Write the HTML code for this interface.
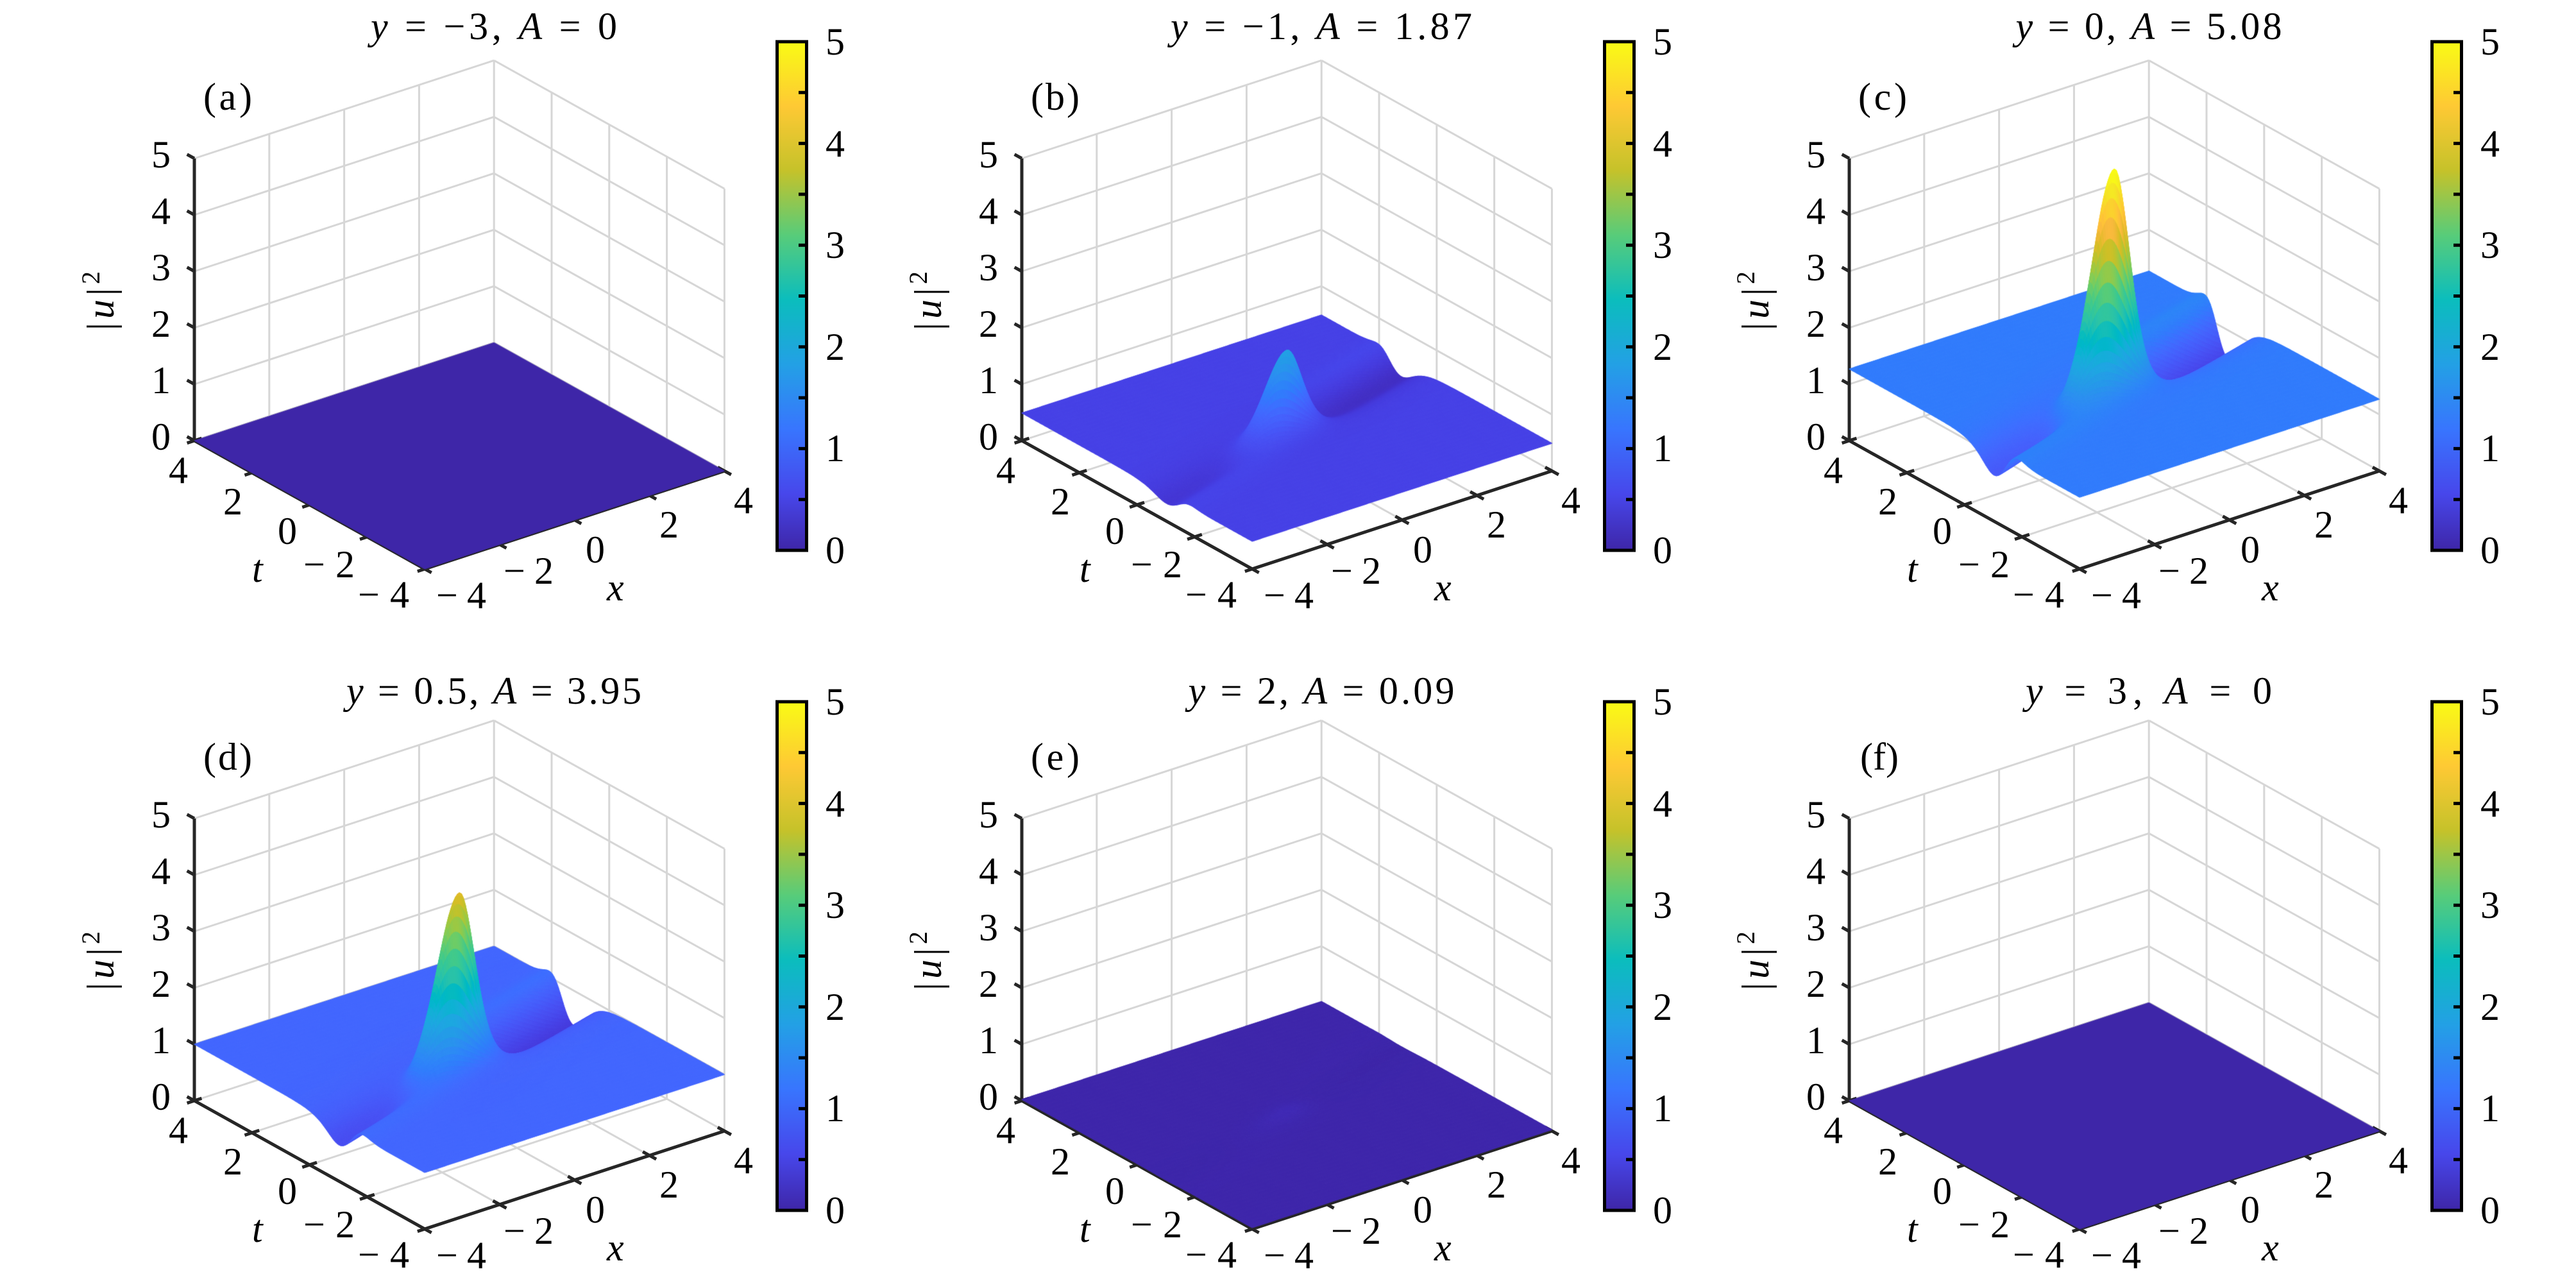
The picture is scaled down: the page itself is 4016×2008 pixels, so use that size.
<!DOCTYPE html>
<html><head><meta charset="utf-8">
<style>
html,body{margin:0;padding:0;background:#fff;}
#wrap{position:relative;width:4016px;height:2008px;overflow:hidden;background:#fff;}
svg,canvas{position:absolute;left:0;top:0;}
text{font-family:"Liberation Serif","DejaVu Serif",serif;font-size:60px;fill:#000;}
.e{text-anchor:end;}
.i{font-style:italic;}
</style></head>
<body><div id="wrap">
<svg width="4016" height="2008" viewBox="0 0 4016 2008" style="z-index:1">
<defs>
<g id="ax">
<path fill="none" stroke="#d6d6d6" stroke-width="3" d="M303 687L770.2 534.2M303 599L770.2 446.2M303 511L770.2 358.2M303 423L770.2 270.2M303 335L770.2 182.2M303 247L770.2 94.2M419.8 648.8V208.8M536.6 610.6V170.6M653.4 572.4V132.4M770.2 534.2V94.2M770.2 534.2L1129.4 734.2M770.2 446.2L1129.4 646.2M770.2 358.2L1129.4 558.2M770.2 270.2L1129.4 470.2M770.2 182.2L1129.4 382.2M770.2 94.2L1129.4 294.2M860 584.2V144.2M949.8 634.2V194.2M1039.6 684.2V244.2M1129.4 734.2V294.2M419.8 648.8L779 848.8M536.6 610.6L895.8 810.6M653.4 572.4L1012.6 772.4M392.8 737L860 584.2M482.6 787L949.8 634.2M572.4 837L1039.6 684.2"/>
<path fill="none" stroke="#262626" stroke-width="5" d="M303 687V247M303 687L662.2 887L1129.4 734.2M303 687l-11.4 -6.3M303 599l-11.4 -6.3M303 511l-11.4 -6.3M303 423l-11.4 -6.3M303 335l-11.4 -6.3M303 247l-11.4 -6.3M291.6 690.7l22.8 -7.4M381.4 740.7l22.8 -7.4M471.2 790.7l22.8 -7.4M561 840.7l22.8 -7.4M650.8 890.7l22.8 -7.4M651.7 881.2l21 11.6M768.5 843l21 11.6M885.3 804.8l21 11.6M1002.1 766.6l21 11.6M1118.9 728.4l21 11.6"/>
</g>
</defs>
<use href="#ax"/>
<use href="#ax" transform="translate(1290,0)"/>
<use href="#ax" transform="translate(2580,0)"/>
<use href="#ax" transform="translate(0,1029)"/>
<use href="#ax" transform="translate(1290,1029)"/>
<use href="#ax" transform="translate(2580,1029)"/>
</svg>
<canvas id="c" width="4016" height="2008" style="z-index:2"></canvas>
<svg width="4016" height="2008" viewBox="0 0 4016 2008" style="z-index:3" font-family="Liberation Serif, DejaVu Serif, serif">
<defs>
<linearGradient id="pg" x1="0" y1="1" x2="0" y2="0">
<stop offset="0" stop-color="rgb(62,38,168)"/>
<stop offset="0.111" stop-color="rgb(71,71,235)"/>
<stop offset="0.238" stop-color="rgb(56,117,254)"/>
<stop offset="0.365" stop-color="rgb(35,160,229)"/>
<stop offset="0.492" stop-color="rgb(11,189,189)"/>
<stop offset="0.619" stop-color="rgb(87,204,122)"/>
<stop offset="0.746" stop-color="rgb(197,194,42)"/>
<stop offset="0.873" stop-color="rgb(254,201,52)"/>
<stop offset="1" stop-color="rgb(249,251,21)"/>
</linearGradient>
<g id="cb">
<rect x="1211.5" y="65" width="46" height="793" fill="url(#pg)" stroke="#000" stroke-width="5"/>
<path stroke="#000" stroke-width="5" d="M1245 778.7H1256M1245 699.4H1256M1245 620.1H1256M1245 540.8H1256M1245 461.5H1256M1245 382.2H1256M1245 302.9H1256M1245 223.6H1256M1245 144.3H1256"/>
</g>
</defs>
<use href="#cb"/>
<use href="#cb" transform="translate(1290,0)"/>
<use href="#cb" transform="translate(2580,0)"/>
<use href="#cb" transform="translate(0,1029)"/>
<use href="#cb" transform="translate(1290,1029)"/>
<use href="#cb" transform="translate(2580,1029)"/>

<!-- Panel (a) -->
<g>
<text x="770" y="61" text-anchor="middle" textLength="384" lengthAdjust="spacing"><tspan class="i">y</tspan> = −3, <tspan class="i">A</tspan> = 0</text>
<text x="317" y="171" font-size="62" textLength="76" lengthAdjust="spacing">(a)</text>
<text class="e" x="266" y="701">0</text><text class="e" x="266" y="613">1</text><text class="e" x="266" y="525">2</text><text class="e" x="266" y="437">3</text><text class="e" x="266" y="349">4</text><text class="e" x="266" y="261">5</text>
<text class="e" x="293" y="753">4</text><text class="e" x="378" y="802">2</text><text class="e" x="463" y="848">0</text><text x="473" y="900" textLength="80" lengthAdjust="spacing">−2</text><text x="558" y="947" textLength="80" lengthAdjust="spacing">−4</text>
<text class="i" x="393" y="907">t</text>
<text x="680" y="948" textLength="78" lengthAdjust="spacing">−4</text><text x="785" y="910" textLength="78" lengthAdjust="spacing">−2</text><text x="913" y="877">0</text><text x="1028" y="838">2</text><text x="1144" y="800">4</text>
<text class="i" x="946" y="936">x</text>
<text transform="translate(177,466) rotate(-90)" text-anchor="middle" letter-spacing="6">|<tspan class="i">u</tspan>|<tspan dy="-22" font-size="40">2</tspan></text>
<text x="1287" y="878">0</text><text x="1287" y="719">1</text><text x="1287" y="561">2</text><text x="1287" y="402">3</text><text x="1287" y="244">4</text><text x="1287" y="85">5</text>
</g>

<!-- Panel (b) -->
<g transform="translate(1290,0)">
<text x="770" y="61" text-anchor="middle" textLength="470" lengthAdjust="spacing"><tspan class="i">y</tspan> = −1, <tspan class="i">A</tspan> = 1.87</text>
<text x="317" y="171" font-size="62" textLength="76" lengthAdjust="spacing">(b)</text>
<text class="e" x="266" y="701">0</text><text class="e" x="266" y="613">1</text><text class="e" x="266" y="525">2</text><text class="e" x="266" y="437">3</text><text class="e" x="266" y="349">4</text><text class="e" x="266" y="261">5</text>
<text class="e" x="293" y="753">4</text><text class="e" x="378" y="802">2</text><text class="e" x="463" y="848">0</text><text x="473" y="900" textLength="80" lengthAdjust="spacing">−2</text><text x="558" y="947" textLength="80" lengthAdjust="spacing">−4</text>
<text class="i" x="393" y="907">t</text>
<text x="680" y="948" textLength="78" lengthAdjust="spacing">−4</text><text x="785" y="910" textLength="78" lengthAdjust="spacing">−2</text><text x="913" y="877">0</text><text x="1028" y="838">2</text><text x="1144" y="800">4</text>
<text class="i" x="946" y="936">x</text>
<text transform="translate(177,466) rotate(-90)" text-anchor="middle" letter-spacing="6">|<tspan class="i">u</tspan>|<tspan dy="-22" font-size="40">2</tspan></text>
<text x="1287" y="878">0</text><text x="1287" y="719">1</text><text x="1287" y="561">2</text><text x="1287" y="402">3</text><text x="1287" y="244">4</text><text x="1287" y="85">5</text>
</g>

<!-- Panel (c) -->
<g transform="translate(2580,0)">
<text x="770" y="61" text-anchor="middle" textLength="415" lengthAdjust="spacing"><tspan class="i">y</tspan> = 0, <tspan class="i">A</tspan> = 5.08</text>
<text x="317" y="171" font-size="62" textLength="76" lengthAdjust="spacing">(c)</text>
<text class="e" x="266" y="701">0</text><text class="e" x="266" y="613">1</text><text class="e" x="266" y="525">2</text><text class="e" x="266" y="437">3</text><text class="e" x="266" y="349">4</text><text class="e" x="266" y="261">5</text>
<text class="e" x="293" y="753">4</text><text class="e" x="378" y="802">2</text><text class="e" x="463" y="848">0</text><text x="473" y="900" textLength="80" lengthAdjust="spacing">−2</text><text x="558" y="947" textLength="80" lengthAdjust="spacing">−4</text>
<text class="i" x="393" y="907">t</text>
<text x="680" y="948" textLength="78" lengthAdjust="spacing">−4</text><text x="785" y="910" textLength="78" lengthAdjust="spacing">−2</text><text x="913" y="877">0</text><text x="1028" y="838">2</text><text x="1144" y="800">4</text>
<text class="i" x="946" y="936">x</text>
<text transform="translate(177,466) rotate(-90)" text-anchor="middle" letter-spacing="6">|<tspan class="i">u</tspan>|<tspan dy="-22" font-size="40">2</tspan></text>
<text x="1287" y="878">0</text><text x="1287" y="719">1</text><text x="1287" y="561">2</text><text x="1287" y="402">3</text><text x="1287" y="244">4</text><text x="1287" y="85">5</text>
</g>

<!-- Panel (d) -->
<g transform="translate(0,1029)">
<text x="770" y="68" text-anchor="middle" textLength="460" lengthAdjust="spacing"><tspan class="i">y</tspan> = 0.5, <tspan class="i">A</tspan> = 3.95</text>
<text x="317" y="171" font-size="62" textLength="76" lengthAdjust="spacing">(d)</text>
<text class="e" x="266" y="701">0</text><text class="e" x="266" y="613">1</text><text class="e" x="266" y="525">2</text><text class="e" x="266" y="437">3</text><text class="e" x="266" y="349">4</text><text class="e" x="266" y="261">5</text>
<text class="e" x="293" y="753">4</text><text class="e" x="378" y="802">2</text><text class="e" x="463" y="848">0</text><text x="473" y="900" textLength="80" lengthAdjust="spacing">−2</text><text x="558" y="947" textLength="80" lengthAdjust="spacing">−4</text>
<text class="i" x="393" y="907">t</text>
<text x="680" y="948" textLength="78" lengthAdjust="spacing">−4</text><text x="785" y="910" textLength="78" lengthAdjust="spacing">−2</text><text x="913" y="877">0</text><text x="1028" y="838">2</text><text x="1144" y="800">4</text>
<text class="i" x="946" y="936">x</text>
<text transform="translate(177,466) rotate(-90)" text-anchor="middle" letter-spacing="6">|<tspan class="i">u</tspan>|<tspan dy="-22" font-size="40">2</tspan></text>
<text x="1287" y="878">0</text><text x="1287" y="719">1</text><text x="1287" y="561">2</text><text x="1287" y="402">3</text><text x="1287" y="244">4</text><text x="1287" y="85">5</text>
</g>

<!-- Panel (e) -->
<g transform="translate(1290,1029)">
<text x="770" y="68" text-anchor="middle" textLength="415" lengthAdjust="spacing"><tspan class="i">y</tspan> = 2, <tspan class="i">A</tspan> = 0.09</text>
<text x="317" y="171" font-size="62" textLength="76" lengthAdjust="spacing">(e)</text>
<text class="e" x="266" y="701">0</text><text class="e" x="266" y="613">1</text><text class="e" x="266" y="525">2</text><text class="e" x="266" y="437">3</text><text class="e" x="266" y="349">4</text><text class="e" x="266" y="261">5</text>
<text class="e" x="293" y="753">4</text><text class="e" x="378" y="802">2</text><text class="e" x="463" y="848">0</text><text x="473" y="900" textLength="80" lengthAdjust="spacing">−2</text><text x="558" y="947" textLength="80" lengthAdjust="spacing">−4</text>
<text class="i" x="393" y="907">t</text>
<text x="680" y="948" textLength="78" lengthAdjust="spacing">−4</text><text x="785" y="910" textLength="78" lengthAdjust="spacing">−2</text><text x="913" y="877">0</text><text x="1028" y="838">2</text><text x="1144" y="800">4</text>
<text class="i" x="946" y="936">x</text>
<text transform="translate(177,466) rotate(-90)" text-anchor="middle" letter-spacing="6">|<tspan class="i">u</tspan>|<tspan dy="-22" font-size="40">2</tspan></text>
<text x="1287" y="878">0</text><text x="1287" y="719">1</text><text x="1287" y="561">2</text><text x="1287" y="402">3</text><text x="1287" y="244">4</text><text x="1287" y="85">5</text>
</g>

<!-- Panel (f) -->
<g transform="translate(2580,1029)">
<text x="770" y="68" text-anchor="middle" textLength="384" lengthAdjust="spacing"><tspan class="i">y</tspan> = 3, <tspan class="i">A</tspan> = 0</text>
<text x="320" y="171" font-size="62">(f)</text>
<text class="e" x="266" y="701">0</text><text class="e" x="266" y="613">1</text><text class="e" x="266" y="525">2</text><text class="e" x="266" y="437">3</text><text class="e" x="266" y="349">4</text><text class="e" x="266" y="261">5</text>
<text class="e" x="293" y="753">4</text><text class="e" x="378" y="802">2</text><text class="e" x="463" y="848">0</text><text x="473" y="900" textLength="80" lengthAdjust="spacing">−2</text><text x="558" y="947" textLength="80" lengthAdjust="spacing">−4</text>
<text class="i" x="393" y="907">t</text>
<text x="680" y="948" textLength="78" lengthAdjust="spacing">−4</text><text x="785" y="910" textLength="78" lengthAdjust="spacing">−2</text><text x="913" y="877">0</text><text x="1028" y="838">2</text><text x="1144" y="800">4</text>
<text class="i" x="946" y="936">x</text>
<text transform="translate(177,466) rotate(-90)" text-anchor="middle" letter-spacing="6">|<tspan class="i">u</tspan>|<tspan dy="-22" font-size="40">2</tspan></text>
<text x="1287" y="878">0</text><text x="1287" y="719">1</text><text x="1287" y="561">2</text><text x="1287" y="402">3</text><text x="1287" y="244">4</text><text x="1287" y="85">5</text>
</g>
</svg>
</div>
<script>
(function(){
var PAR=[[62,38,168],[64,42,180],[66,46,192],[68,50,203],[69,55,213],[70,60,222],[71,65,229],[71,71,235],[72,77,240],[72,82,244],[71,88,248],[70,94,251],[69,99,253],[66,105,254],[62,111,255],[56,117,254],[50,124,252],[47,129,250],[46,135,247],[45,140,243],[43,145,239],[39,151,235],[37,155,232],[35,160,229],[32,165,227],[28,169,223],[24,173,219],[18,177,214],[8,181,208],[1,184,202],[2,186,195],[11,189,189],[25,191,182],[36,193,174],[44,196,167],[49,198,159],[55,200,151],[63,202,142],[74,203,132],[87,204,122],[100,205,111],[114,205,100],[129,204,89],[143,203,78],[157,201,67],[171,199,57],[185,196,49],[197,194,42],[209,191,39],[220,189,41],[230,187,45],[240,186,54],[248,186,61],[254,190,60],[254,195,56],[254,201,52],[252,207,48],[250,214,45],[247,220,42],[245,227,39],[245,233,36],[246,239,32],[247,245,27],[249,251,21]];
function col(v){v=Math.max(0,Math.min(1,v));var f=v*63,i=Math.floor(f);if(i>62)i=62;var r=f-i,a=PAR[i],b=PAR[i+1];
return 'rgb('+Math.round(a[0]+(b[0]-a[0])*r)+','+Math.round(a[1]+(b[1]-a[1])*r)+','+Math.round(a[2]+(b[2]-a[2])*r)+')';}
var cv=document.getElementById('c'),g=cv.getContext('2d');
function prj(ox,oy,x,t,z){return [ox+303+58.4*(x+4)+44.9*(4-t),oy+687-19.1*(x+4)+25*(4-t)-88*z];}
function sech2(a){var c=Math.cosh(a);return 1/(c*c);}
function lg(a){return 1/(1+Math.exp(-a));}
function base(x,t){
  var sT=t-0.3*x-0.1;
  var dep=0.55+0.15*Math.tanh(x/2);
  var T=dep*sech2(1.6*sT);
  var shelf=0.35*sech2(2.2*(sT-0.6))*lg(2*(x-0.8));
  var shelf2=0.2*sech2(2.2*(sT+0.6))*lg(-2*(x+0.8));
  return 1-T+shelf+shelf2;
}
var B0=base(0,0);
function F(x,t,Fp){
  var u=(x+0.3*t)/1.044,v=(t-0.3*x)/1.044;
  var su=u<0?1.3:0.75, sv=0.42;
  var r=Math.sqrt((u/su)*(u/su)+(v/sv)*(v/sv));
  var gg=sech2(1.2*r);
  return base(x,t)+(Fp-B0)*gg;
}
var panels=[{ox:0,oy:0,B:0},{ox:1290,oy:0,B:0.49,A:1.87},{ox:2580,oy:0,B:1.27,A:5.08},
{ox:0,oy:1029,B:1.0,A:3.95},{ox:1290,oy:1029,B:0.0225,A:0.09},{ox:2580,oy:1029,B:0}];
g.lineJoin='round';
panels.forEach(function(p){
  if(!p.B){
    var c=[prj(p.ox,p.oy,-4,4,0),prj(p.ox,p.oy,4,4,0),prj(p.ox,p.oy,4,-4,0),prj(p.ox,p.oy,-4,-4,0)];
    g.fillStyle=col(0);g.strokeStyle=col(0);g.lineWidth=1;
    g.beginPath();g.moveTo(c[0][0],c[0][1]);for(var k=1;k<4;k++)g.lineTo(c[k][0],c[k][1]);g.closePath();g.fill();g.stroke();
    return;
  }
  var N=150,h=8/N,Fp=p.A/p.B,Z=[],i,j;
  for(i=0;i<=N;i++){Z[i]=[];for(j=0;j<=N;j++){var x=-4+i*h,t=-4+j*h;Z[i][j]=p.B*F(x,t,Fp);}}
  var q=[];
  for(i=0;i<N;i++)for(j=0;j<N;j++){var xc=-4+(i+0.5)*h,tc=-4+(j+0.5)*h;q.push([44.9*xc+58.4*tc,i,j]);}
  q.sort(function(a,b){return b[0]-a[0];});
  q.forEach(function(e){
    var i=e[1],j=e[2],x0=-4+i*h,x1=x0+h,t0=-4+j*h,t1=t0+h;
    var z00=Z[i][j],z10=Z[i+1][j],z11=Z[i+1][j+1],z01=Z[i][j+1];
    var a=prj(p.ox,p.oy,x0,t0,z00),b=prj(p.ox,p.oy,x1,t0,z10),c=prj(p.ox,p.oy,x1,t1,z11),d=prj(p.ox,p.oy,x0,t1,z01);
    var cl=col((z00+z10+z11+z01)/4/5);
    g.fillStyle=cl;g.strokeStyle=cl;g.lineWidth=1.2;
    g.beginPath();g.moveTo(a[0],a[1]);g.lineTo(b[0],b[1]);g.lineTo(c[0],c[1]);g.lineTo(d[0],d[1]);g.closePath();g.fill();g.stroke();
  });
});
})();
</script>
</body></html>
